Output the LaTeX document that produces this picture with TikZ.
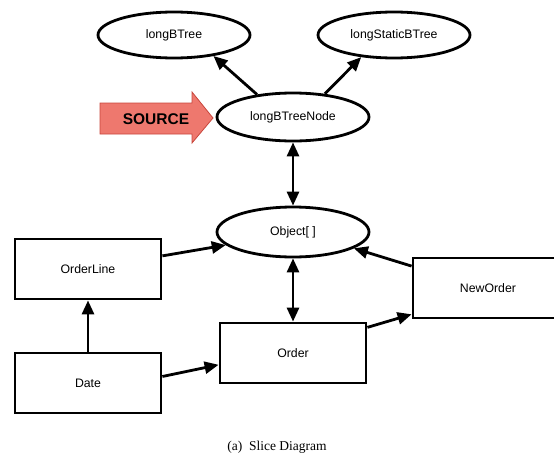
\documentclass[tikz,border=0pt]{standalone}
\usepackage{fontspec}
\setmainfont{Liberation Serif}
\newfontfamily\nodefont{Liberation Sans}
\usetikzlibrary{shapes.geometric,arrows.meta}
\begin{document}
\begin{tikzpicture}[x=1pt,y=-1pt,
  oval/.style={ellipse,draw,line width=2.8pt,minimum width=152pt,minimum height=#1,inner sep=0pt,font=\nodefont\fontsize{12.3}{14}\selectfont},
  box/.style={rectangle,draw,line width=2.8pt,minimum width=146pt,minimum height=60pt,inner sep=0pt,font=\nodefont\fontsize{12.3}{14}\selectfont},
  conn/.style={line width=2.8pt,-{Triangle[length=14pt,width=12pt]}},
  biconn/.style={line width=2.8pt,{Triangle[length=14pt,width=12pt]}-{Triangle[length=14pt,width=12pt]}}]
\useasboundingbox (0,0) rectangle (554,463);
\node[oval=46pt] (lbt) at (174,35) {longBTree};
\node[oval=46pt] (lsbt) at (394,35) {longStaticBTree};
\node[oval=48pt] (lbtn) at (293,117) {longBTreeNode};
\node[oval=50pt] (obj) at (293,232) {Object[ ]};
\node[box] (ol) at (88,269) {OrderLine};
\node[box] (date) at (88,383) {Date};
\node[box] (order) at (293,353) {Order};
\node[box,minimum width=150pt] (no) at (488,288) {NewOrder};
% SOURCE arrow
\draw[draw={rgb,255:red,200;green,70;blue,60},fill={rgb,255:red,238;green,120;blue,110},line width=0.8pt]
  (100,103) -- (192,103) -- (192,92) -- (213,118) -- (192,143) -- (192,134) -- (100,134) -- cycle;
\node[font=\nodefont\bfseries\fontsize{15.5}{18}\selectfont] (src) at (156,119) {SOURCE};
% connectors
\draw[conn] (lbtn.148) -- (lbt.-28);
\draw[conn] (lbtn.36) -- (lsbt.-146);
\draw[biconn] (lbtn.south) -- (obj.north);
\draw[biconn] (obj.south) -- (order.north);
\draw[conn] (ol.10) -- (obj.-169);
\draw[conn] (no.164) -- (obj.-15);
\draw[conn] (order.19) -- (no.-161);
\draw[conn] (date.5) -- (order.-171);
\draw[conn] (date.north) -- (ol.south);
\node[font=\fontsize{13.5}{16}\selectfont] (cap) at (277,447) {(a)\ \ Slice Diagram};
\end{tikzpicture}
\end{document}
